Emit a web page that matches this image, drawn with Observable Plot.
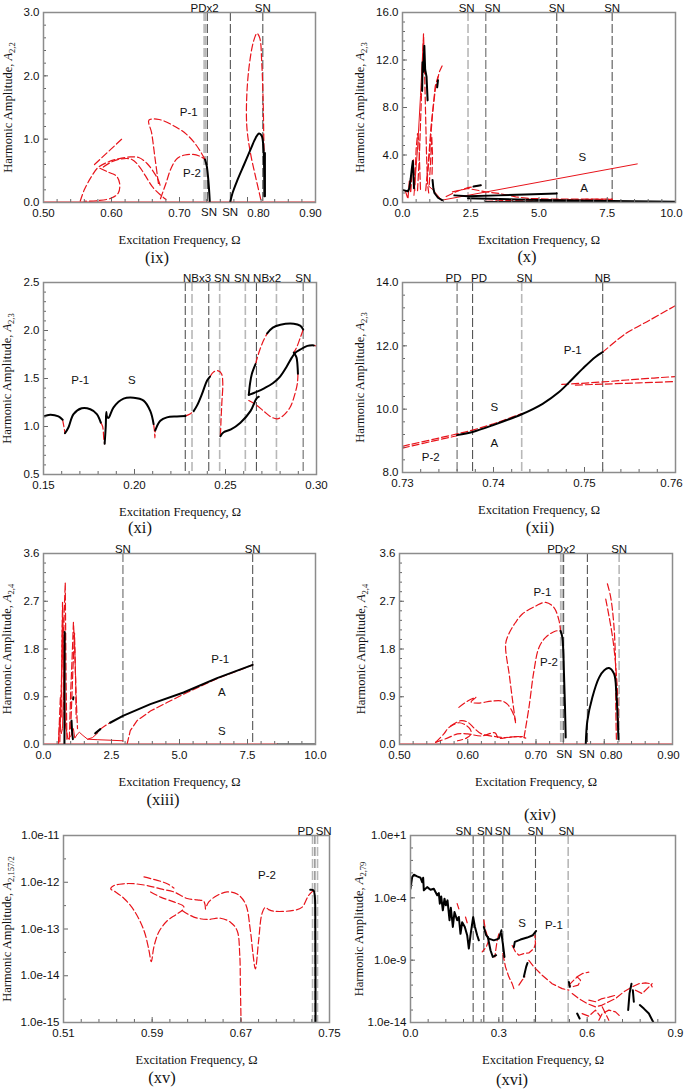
<!DOCTYPE html>
<html><head><meta charset="utf-8">
<script src="https://cdn.jsdelivr.net/npm/d3@7"></script>
<script src="https://cdn.jsdelivr.net/npm/@observablehq/plot@0.6"></script>
<style>
body{margin:0;background:#fff;}
#wrap{position:relative;width:685px;height:1091px;overflow:hidden;background:#fff;}
.panel{position:absolute;}
.cap{position:absolute;font-family:"Liberation Serif","Times New Roman",serif;font-size:16.5px;transform:translate(-50%,-50%);white-space:nowrap;color:#111;}
</style></head><body><div id="wrap"></div>
<script>
// ---------------- (ix) ----------------
const ixXTicks = [0.5, 0.6, 0.7, 0.8, 0.9];
const ixYTicks = [0, 1, 2, 3];
const ixDarkV = [0.741, 0.7748, 0.8225];
const ixLightV = [0.7362, 0.7385];
const ixTop = [{x: 0.737, t: "PDx2"}, {x: 0.8225, t: "SN"}];
const ixBottom = [{x: 0.7435, t: "SN"}, {x: 0.7745, t: "SN"}];
const ixLabels = [{x: 0.7135, y: 1.43, t: "P-1"}, {x: 0.7184, y: 0.457, t: "P-2"}];
const ixRedSolid = [[[0.50, 0.0], [0.90, 0.0]]];
const ixRedDash = [
  [[0.669,0.30],[0.664,0.7],[0.659,1.1],[0.655,1.30],[0.67,1.31],[0.69,1.22],[0.71,1.08],[0.725,0.9],[0.7375,0.68]],
  [[0.672,0.06],[0.68,0.3],[0.688,0.55],[0.697,0.7],[0.708,0.75],[0.72,0.76],[0.73,0.73],[0.7375,0.68]],
  [[0.554,0.02],[0.56,0.2],[0.57,0.4],[0.58,0.55],[0.595,0.64],[0.61,0.69],[0.628,0.72],[0.64,0.71],[0.652,0.62],[0.662,0.48],[0.669,0.35],[0.672,0.25]],
  [[0.583,0.54],[0.595,0.48],[0.607,0.42],[0.612,0.3],[0.61,0.15],[0.6,0.07],[0.58,0.03],[0.56,0.02]],
  [[0.588,0.56],[0.60,0.64],[0.615,0.69],[0.63,0.68],[0.64,0.58],[0.65,0.42],[0.66,0.25],[0.672,0.12],[0.68,0.05]],
  [[0.575,0.60],[0.616,1.01]],
  [[0.8195,0.05],[0.812,0.4],[0.804,0.8],[0.799,1.2],[0.799,1.7],[0.803,2.2],[0.809,2.55],[0.814,2.67],[0.818,2.6],[0.821,2.2],[0.823,1.6],[0.824,1.0],[0.8245,0.7]]
];
const ixBlack = [
  [[0.7375,0.68],[0.740,0.58],[0.742,0.40],[0.7435,0.20],[0.7445,0.02]],
  [[0.7745,0.0],[0.778,0.15],[0.785,0.35],[0.795,0.6],[0.805,0.85],[0.812,1.02],[0.817,1.09],[0.821,1.05],[0.8235,0.85],[0.8245,0.5],[0.8248,0.1]],
  [[0.8256,0.1],[0.8256,0.78]]
];

// ---------------- (x) ----------------
const xXTicks = [0, 2.5, 5, 7.5, 10];
const xYTicks = [0, 4, 8, 12, 16];
const xDarkV = [5.65, 7.68];
const xMidV = [3.05];
const xLightV = [2.4];
const xTop = [{x: 2.35, t: "SN"}, {x: 3.3, t: "SN"}, {x: 5.65, t: "SN"}, {x: 7.68, t: "SN"}];
const xULabels = [{x: 6.59, y: 3.84, t: "S"}, {x: 6.65, y: 1.18, t: "A"}];
const xRedThin = [
  [[1.45,0.2],[8.6,3.25]],
  [[1.45,0.15],[1.25,0.7],[1.1,1.1],[0.95,1.4]],
  [[0.42,0.6],[0.55,4.5],[0.66,9.0],[0.76,13.6]]
];
const xRedDash = [
  [[0.55,1.0],[0.62,4],[0.68,8],[0.73,11.5],[0.77,14.2],[0.8,12],[0.84,8],[0.88,4],[0.92,1.5],[0.96,0.8]],
  [[0.45,1.5],[0.5,4.5],[0.55,5.8],[0.6,5.2],[0.63,3],[0.66,1]],
  [[0.85,1.0],[0.95,3.5],[1.05,6.5],[1.2,9.5],[1.35,11.0],[1.45,11.5]],
  [[0.9,1.8],[1.0,4.5],[1.1,7.5],[1.2,9.8],[1.3,10.6]],
  [[0.98,1.5],[1.03,3.5],[1.07,5.6],[1.1,4.0],[1.08,2.2]],
  [[0.1,1.0],[0.2,0.3],[0.25,1.8],[0.3,0.8],[0.35,2.5],[0.4,3.6],[0.45,1.0]],
  [[1.6,0.5],[2.0,0.95],[2.4,1.25],[2.87,1.45]],
  [[1.83,0.9],[2.4,1.18],[3.05,0.9],[3.54,0.76],[4.15,0.48],[4.63,0.34],[5.6,0.28],[7.68,0.28]],
  [[3.05,0.1],[4.0,0.18],[5.65,0.24],[7.68,0.27]]
];
const xBlack = [
  [[0,1.05],[0.1,1.0],[0.2,0.95],[0.25,1.2],[0.3,2.0],[0.35,3.0],[0.38,3.5],[0.4,2.5],[0.42,1.2]],
  [[0.72,9.4],[0.735,11.8],[0.76,11.0],[0.8,13.2],[0.83,11.2],[0.88,10.6],[0.92,8.6]],
  [[1.27,9.7],[1.3,10.3]],
  [[1.1,1.9],[1.13,1.2],[1.17,0.8],[1.3,0.4],[1.45,0.2]],
  [[1.9,0.6],[2.4,0.52],[3.5,0.6],[4.5,0.68],[5.65,0.75]],
  [[2.4,0.35],[5.0,0.22],[7.68,0.13],[10,0.06]],
  [[3.05,0.05],[10,0.02]],
  [[2.6,1.35],[2.87,1.46]]
];

// ---------------- (xi) ----------------
const xiXTicks = [0.15, 0.20, 0.25, 0.30];
const xiYTicks = [0.5, 1.0, 1.5, 2.0, 2.5];
const xiDarkV = [0.2279, 0.2408, 0.267];
const xiLightV = [0.2316, 0.2468, 0.2609, 0.278];
const xiMidV = [0.2927];
const xiTop = [{x: 0.2344, t: "NBx3"}, {x: 0.2481, t: "SN"}, {x: 0.2591, t: "SN"}, {x: 0.2729, t: "NBx2"}, {x: 0.2927, t: "SN"}];
const xiLabels = [{x: 0.1702, y: 1.477, t: "P-1"}];
const xiULabels = [{x: 0.1986, y: 1.477, t: "S"}];
const xiBlack = [
  [[0.15,1.105],[0.1537,1.123],[0.1582,1.105],[0.1605,1.07]],
  [[0.1618,0.93],[0.1637,0.99],[0.1665,1.13],[0.171,1.19],[0.1757,1.18],[0.1793,1.13],[0.1815,1.04]],
  [[0.1836,0.82],[0.1842,1.0],[0.1845,1.15],[0.1849,1.10],[0.1857,1.09],[0.1885,1.20],[0.194,1.29],[0.1995,1.30],[0.205,1.27],[0.2087,1.16],[0.2105,1.025]],
  [[0.2114,0.96],[0.2142,1.06],[0.2178,1.095],[0.2233,1.105],[0.228,1.11]],
  [[0.2325,1.16],[0.2344,1.22],[0.2371,1.34],[0.2399,1.48],[0.2415,1.52]],
  [[0.2472,0.90],[0.2490,0.94],[0.2530,0.97],[0.2582,1.04],[0.2637,1.16],[0.267,1.29],[0.2683,1.31]],
  [[0.2628,1.33],[0.2635,1.45],[0.2645,1.55],[0.2665,1.65]],
  [[0.2729,1.97],[0.276,2.03],[0.2802,2.06],[0.2875,2.07],[0.291,2.05],[0.2927,2.01]],
  [[0.2628,1.33],[0.267,1.36],[0.2715,1.40],[0.276,1.45],[0.28,1.52],[0.2835,1.62],[0.2865,1.72],[0.2885,1.77],[0.291,1.80],[0.295,1.84],[0.2985,1.845]],
  [[0.2875,1.77],[0.289,1.72],[0.2895,1.65],[0.2898,1.55]]
];
const xiRedDash = [
  [[0.1605,1.07],[0.1612,1.0],[0.1618,0.93]],
  [[0.1815,1.04],[0.1825,1.0],[0.1832,0.86],[0.1836,0.82]],
  [[0.2105,1.025],[0.211,0.95],[0.2112,0.88],[0.2114,0.96]],
  [[0.228,1.11],[0.2305,1.13],[0.2325,1.16]],
  [[0.2415,1.52],[0.2436,1.57],[0.246,1.58],[0.2478,1.55],[0.2485,1.45],[0.248,1.25],[0.2475,1.05],[0.2472,0.90]],
  [[0.2665,1.65],[0.268,1.75],[0.2705,1.88],[0.2729,1.97]],
  [[0.2927,2.01],[0.291,1.92],[0.289,1.82],[0.2875,1.77]],
  [[0.2898,1.55],[0.2895,1.45],[0.288,1.33],[0.2855,1.2],[0.2815,1.11],[0.2784,1.08],[0.275,1.10],[0.271,1.16],[0.2665,1.23],[0.2628,1.27]],
  [[0.2985,1.845],[0.30,1.84]]
];

// ---------------- (xii) ----------------
const xiiXTicks = [0.73, 0.74, 0.75, 0.76];
const xiiYTicks = [8, 10, 12, 14];
const xiiDarkV = [0.7377, 0.752];
const xiiMidV = [0.736];
const xiiLightV = [0.7431];
const xiiTop = [{x: 0.7356, t: "PD"}, {x: 0.7384, t: "PD"}, {x: 0.7434, t: "SN"}, {x: 0.752, t: "NB"}];
const xiiLabels = [{x: 0.7487, y: 11.86, t: "P-1"}, {x: 0.7331, y: 8.49, t: "P-2"}];
const xiiULabels = [{x: 0.7401, y: 10.07, t: "S"}, {x: 0.7401, y: 8.91, t: "A"}];
const xiiBlack = [
  [[0.736,9.18],[0.7377,9.28],[0.7399,9.49],[0.7431,9.84],[0.7454,10.17],[0.7472,10.54],[0.7487,10.96],[0.7498,11.28],[0.7512,11.65],[0.752,11.80]]
];
const xiiRedDash = [
  [[0.752,11.80],[0.7545,12.38],[0.7571,12.80],[0.76,13.27]],
  [[0.73,8.83],[0.736,9.22],[0.7377,9.34],[0.74,9.54],[0.7431,9.86]],
  [[0.73,8.77],[0.733,8.97],[0.736,9.16]],
  [[0.7475,10.78],[0.752,10.86],[0.756,10.95],[0.76,11.03]],
  [[0.749,10.76],[0.752,10.79],[0.756,10.83],[0.76,10.87]]
];

// ---------------- (xiii) ----------------
const xiiiXTicks = [0, 2.5, 5, 7.5, 10];
const xiiiYTicks = [0, 0.9, 1.8, 2.7, 3.6];
const xiiiDarkV = [7.69];
const xiiiMidV = [2.92];
const xiiiTop = [{x: 2.92, t: "SN"}, {x: 7.69, t: "SN"}];
const xiiiLabels = [{x: 6.5, y: 1.61, t: "P-1"}];
const xiiiULabels = [{x: 6.56, y: 0.98, t: "A"}, {x: 6.56, y: 0.245, t: "S"}];
const xiiiRedSolid = [[[0, 0], [8.6, 0]]];
const xiiiRedThin = [
  [[0.55,0.05],[0.6,0.5],[0.65,0.2],[0.7,0.3],[0.75,1.5],[0.8,0.4],[0.9,0.1],[1.0,0.15],[1.1,0.3],[1.15,0.12],[1.25,0.2],[1.32,0.23],[1.45,0.17],[1.62,0.1],[1.8,0.13],[2.0,0.22]],
  [[1.62,0.1],[2.0,0.09],[2.5,0.08],[2.92,0.07]]
];
const xiiiRedDash = [
  [[0.55,0.0],[0.62,0.9],[0.65,0.5],[0.68,2.0],[0.7,2.68],[0.73,1.5],[0.76,2.5],[0.8,3.05],[0.83,1.2],[0.86,0.1]],
  [[0.6,0.05],[0.66,1.2],[0.7,2.4],[0.74,0.8],[0.78,0.3]],
  [[0.95,0.1],[1.0,1.0],[1.05,1.6],[1.1,2.3],[1.15,1.8],[1.2,0.9],[1.25,0.3]],
  [[1.0,0.3],[1.08,1.4],[1.14,2.1],[1.18,1.2],[1.2,0.5]],
  [[2.09,0.29],[2.25,0.35],[2.45,0.41]],
  [[3.07,0.0],[3.19,0.26],[3.44,0.45],[3.93,0.63],[4.54,0.79],[5.28,0.98],[6.38,1.24],[7.69,1.50]]
];
const xiiiBlack = [
  [[8.6, 0], [10, 0]],
  [[0.77,0.0],[0.78,2.12]],
  [[1.03,0.45],[1.05,0.25],[1.08,0.1]],
  [[1.09,0.85],[1.1,0.89]],
  [[1.9,0.21],[2.09,0.29]],
  [[2.45,0.41],[2.92,0.54],[3.93,0.76],[5.15,0.98],[6.38,1.25],[7.69,1.50]]
];

// ---------------- (xiv) ----------------
const xivXTicks = [0.5, 0.6, 0.7, 0.8, 0.9];
const xivYTicks = [0, 0.9, 1.8, 2.7, 3.6];
const xivDarkV = [0.7405, 0.7753];
const xivLightV = [0.7362, 0.7386, 0.8218];
const xivTop = [{x: 0.737, t: "PDx2"}, {x: 0.8218, t: "SN"}];
const xivBottom = [{x: 0.7415, t: "SN"}, {x: 0.7745, t: "SN"}];
const xivLabels = [{x: 0.7093, y: 2.86, t: "P-1"}, {x: 0.719, y: 1.55, t: "P-2"}];
const xivRedSolid = [[[0.50, 0.0], [0.90, 0.0]]];
const xivRedDash = [
  [[0.670,0.41],[0.666,0.8],[0.661,1.3],[0.6555,1.89],[0.66,2.08],[0.67,2.3],[0.68,2.46],[0.6995,2.61],[0.7142,2.68],[0.7264,2.58],[0.7338,2.33],[0.736,2.14]],
  [[0.6824,0.13],[0.6897,0.70],[0.697,1.39],[0.7044,1.83],[0.7142,2.02],[0.7289,2.14],[0.736,2.14]],
  [[0.5528,0.04],[0.565,0.2],[0.5724,0.32],[0.587,0.41],[0.595,0.38],[0.603,0.3],[0.605,0.2],[0.598,0.12],[0.585,0.07]],
  [[0.5528,0.04],[0.57,0.12],[0.585,0.2],[0.6,0.2],[0.62,0.16],[0.64,0.22],[0.645,0.12],[0.66,0.14],[0.68,0.15]],
  [[0.587,0.70],[0.600,0.82],[0.612,0.89],[0.605,0.8],[0.615,0.78],[0.636,0.82],[0.65,0.82],[0.658,0.76],[0.666,0.6],[0.670,0.45]],
  [[0.575,0.35],[0.59,0.45],[0.6,0.42],[0.61,0.3],[0.62,0.2],[0.64,0.15],[0.655,0.13],[0.675,0.15],[0.685,0.12]],
  [[0.8046,3.03],[0.8095,2.77],[0.8144,2.2],[0.8169,1.33],[0.8169,0.7],[0.8178,0.1]],
  [[0.8022,2.74],[0.813,1.95],[0.8193,1.01],[0.8208,0.2]]
];
const xivBlack = [
  [[0.736,2.14],[0.7386,2.02],[0.741,1.33],[0.7425,0.70],[0.7435,0.13]],
  [[0.7729,0.0],[0.7753,0.45],[0.7826,0.89],[0.7924,1.26],[0.800,1.40],[0.807,1.44],[0.8144,1.33],[0.8178,0.95],[0.8198,0.45],[0.8208,0.1]]
];

// ---------------- (xv) ----------------
const xvXTicks = [0.51, 0.59, 0.67, 0.75];
const xvYTicks = [1e-15, 1e-14, 1e-13, 1e-12, 1e-11];
const xvLightV = [0.7347, 0.7392];
const xvMidV = [0.7368];
const xvTop = [{x: 0.7283, t: "PD"}, {x: 0.7447, t: "SN"}];
const xvLabels = [{x: 0.6936, y: 1.4e-12, t: "P-2"}];
const xvRedDash = [
  [[0.7356,6.7e-13],[0.7311,5.2e-13],[0.7251,2.9e-13],[0.7176,2.5e-13],[0.6996,2.4e-13],[0.6951,2.6e-13],[0.6921,2.9e-13],[0.689,2.1e-13],[0.6861,5.8e-14],[0.6831,1.4e-14],[0.681,2.9e-14],[0.6786,9.3e-14],[0.6741,3.5e-13],[0.6666,5.6e-13],[0.6576,6.2e-13],[0.6486,5.2e-13],[0.6411,3.8e-13],[0.6381,2.7e-13]],
  [[0.6381,2.7e-13],[0.6366,3.9e-13],[0.6306,4.2e-13],[0.6216,4.5e-13],[0.6096,6.2e-13],[0.5976,7.2e-13],[0.5856,8.5e-13],[0.5736,9.3e-13],[0.5646,9.3e-13],[0.5556,8.5e-13],[0.5526,7.2e-13],[0.557,6.2e-13],[0.5646,4.5e-13],[0.5736,2.5e-13],[0.5826,9.3e-14],[0.5871,3.5e-14],[0.5892,2.0e-14],[0.5916,4.2e-14],[0.5961,8.7e-14],[0.6036,1.5e-13],[0.6111,2.0e-13],[0.6171,2.5e-13]],
  [[0.5826,1.3e-12],[0.5946,1.1e-12],[0.6036,9.3e-13],[0.6096,7.5e-13]],
  [[0.5886,6.2e-13],[0.5976,4.8e-13],[0.6096,3.8e-13],[0.6186,3.0e-13],[0.6171,2.5e-13]],
  [[0.6171,2.5e-13],[0.6276,1.8e-13],[0.6396,1.6e-13],[0.6516,1.7e-13],[0.6606,1.4e-13],[0.6666,9.3e-14],[0.669,2.9e-14],[0.6696,5.8e-15],[0.6702,1e-15]]
];
const xvBlack = [
  [[0.7326,6.9e-13],[0.7356,6.7e-13],[0.7368,4.8e-13],[0.7372,1e-13],[0.7374,1e-15]]
];

// ---------------- (xvi) ----------------
const xviXTicks = [0, 0.3, 0.6, 0.9];
const xviYTicks = [1e-14, 1e-9, 1e-4, 1e1];
const xviDarkV = [0.2128, 0.249, 0.3136, 0.4245];
const xviLightV = [0.5355];
const xviTop = [{x: 0.18, t: "SN"}, {x: 0.2526, t: "SN"}, {x: 0.3136, t: "SN"}, {x: 0.4245, t: "SN"}, {x: 0.5295, t: "SN"}];
const xviLabels = [{x: 0.487, y: 6.3e-7, t: "P-1"}];
const xviULabels = [{x: 0.379, y: 8.5e-7, t: "S"}];
const xviBlack = [
  [[0,5.4e-4],[0.0057,4.6e-3],[0.0113,7.1e-3],[0.0226,5.2e-3],[0.034,4.1e-3],[0.0396,1.8e-3],[0.043,4.1e-3],[0.0453,4.0e-4],[0.0566,7.2e-4],[0.068,4.4e-4],[0.0792,5.4e-4],[0.0849,2.9e-4],[0.0906,1.6e-4],[0.0962,2.4e-4],[0.0996,3.4e-5],[0.1042,1.3e-4],[0.1098,1.0e-5],[0.1155,8.5e-5],[0.12,2.5e-5],[0.1257,6.3e-5],[0.1325,1.6e-6],[0.137,1.6e-5],[0.1438,4.6e-7],[0.1494,7.2e-6],[0.1585,1.6e-6],[0.1642,2.9e-6],[0.1698,1.3e-7],[0.1755,1.1e-6],[0.1845,4.6e-7],[0.1925,1.0e-7],[0.1981,8.5e-9],[0.2038,1.0e-7],[0.2128,2.9e-6],[0.2185,5.1e-7],[0.2264,1.0e-7],[0.2321,3.9e-8]],
  [[0.249,4.6e-7],[0.257,1.0e-7],[0.266,5.4e-8],[0.283,3.9e-8],[0.3,5.4e-8],[0.309,2.5e-7]],
  [[0.2626,7.2e-8],[0.2717,6.3e-9],[0.2796,1.8e-9],[0.2909,2.5e-9]],
  [[0.309,1.3e-7],[0.3136,2.1e-8],[0.3192,1.8e-9]],
  [[0.351,1.1e-8],[0.3543,2.9e-8],[0.3736,4.5e-8],[0.3962,6.5e-8],[0.4155,1.0e-7],[0.4268,2.2e-7]],
  [[0.385,4.6e-11],[0.3928,2.9e-10],[0.3974,6.0e-10]],
  [[0.5378,1.8e-11],[0.5412,7.2e-12]],
  [[0.566,5.2e-14],[0.5744,2.1e-14]],
  [[0.7393,1.0e-13],[0.7438,2.1e-12],[0.7506,1.3e-11]],
  [[0.7551,3.9e-12],[0.7585,4.6e-13]],
  [[0.7789,2.5e-13],[0.7925,1.3e-13],[0.8095,5.2e-14],[0.8242,1.1e-14]]
];
const xviRedDash = [
  [[0.1585,3.4e-5],[0.1642,1.3e-5]],
  [[0.1868,2.9e-6],[0.1925,1.0e-6]],
  [[0.249,1.6e-6],[0.2547,2.5e-7],[0.266,3.9e-8],[0.257,1.1e-8],[0.2434,4.6e-9]],
  [[0.3,1.3e-7],[0.2943,3.9e-8],[0.2887,4.6e-9],[0.2864,1.8e-9]],
  [[0.3136,3.4e-9],[0.3226,2.9e-10],[0.334,4.6e-11],[0.3453,1.3e-11],[0.351,5.2e-12]],
  [[0.368,1.0e-11],[0.3793,2.5e-11],[0.3883,4.6e-11]],
  [[0.3453,1.5e-8],[0.3566,4.6e-9],[0.368,2.5e-9],[0.385,3.4e-9],[0.4019,3.8e-9],[0.4189,8.5e-9],[0.4245,2.1e-8],[0.4223,1.0e-7]],
  [[0.4019,9.8e-10],[0.4189,2.9e-10],[0.4472,6.2e-11],[0.4811,1.3e-11],[0.5151,5.2e-12],[0.5378,3.9e-12]],
  [[0.5378,1.0e-11],[0.5548,2.5e-11],[0.566,4.6e-11],[0.5774,2.5e-11],[0.5696,1.0e-11],[0.5491,7.2e-12],[0.5378,1.0e-11]],
  [[0.566,4.6e-11],[0.583,8.3e-11],[0.6057,1.1e-10]],
  [[0.5491,2.1e-12],[0.5717,8.3e-13],[0.6,3.3e-13],[0.6283,1.8e-13],[0.651,2.5e-13],[0.6736,4.6e-13],[0.6962,8.3e-13],[0.7245,2.9e-12],[0.7528,7.2e-12],[0.7755,1.3e-11],[0.7981,1.5e-11],[0.8151,1.3e-11],[0.8208,7.2e-12]],
  [[0.7642,3.9e-12],[0.7868,2.1e-12],[0.8038,5.2e-12],[0.8208,1.3e-11]],
  [[0.6396,1.5e-14],[0.651,5.2e-14],[0.6736,9.8e-14],[0.6962,7.2e-14],[0.7132,2.9e-14]],
  [[0.583,5.2e-14],[0.6057,3.2e-14],[0.6283,9.8e-14],[0.6453,2.9e-14]],
  [[0.651,1.8e-13],[0.6623,5.2e-14],[0.6736,1.5e-14]],
  [[0.6057,6.2e-13],[0.6283,4.6e-13],[0.651,8.3e-13],[0.6736,1.1e-12],[0.695,1.5e-12]]
];

// ---------------- styling and builder ----------------
const RED = "#e8141b", BLACK = "#000", DARK = "#555", MID = "#8a8a8a", LIGHT = "#b8b8b8", FRAME = "#8c8c8c";
const SANS = "'Liberation Sans', Arial, sans-serif";
const SERIF = "'Liberation Serif', 'Times New Roman', serif";

function build(p) {
  const fw = p.width - p.mL - p.mR, fh = p.height - p.mT - p.mB;
  const xy = (extra) => ({x: d => d[0], y: d => d[1], clip: true, curve: p.curve || "linear", ...extra});
  const shift = p.xShift || new Map();
  const marks = [];
  marks.push(Plot.ruleX(p.lightV || [], {x: d => d, stroke: LIGHT, strokeWidth: 1.6, strokeDasharray: "9,3"}));
  marks.push(Plot.ruleX(p.midV || [], {x: d => d, stroke: MID, strokeWidth: 1.4, strokeDasharray: "9,3"}));
  marks.push(Plot.ruleX(p.darkV || [], {x: d => d, stroke: DARK, strokeWidth: 1.1, strokeDasharray: "9,3"}));
  for (const a of p.redSolid || []) marks.push(Plot.line(a, xy({stroke: RED, strokeWidth: 1.8})));
  for (const a of p.redThin || []) marks.push(Plot.line(a, xy({stroke: RED, strokeWidth: 1})));
  for (const a of p.redDash || []) marks.push(Plot.line(a, xy({stroke: RED, strokeWidth: 1.2, strokeDasharray: "7,3"})));
  for (const a of p.black || []) marks.push(Plot.line(a, xy({stroke: BLACK, strokeWidth: 2})));
  marks.push(Plot.tickX(p.xMinor, {x: d => d, insetTop: fh - 3, stroke: "#666"}));
  marks.push(Plot.tickX(p.xTicks, {x: d => d, insetTop: fh - 5, stroke: "#666"}));
  marks.push(Plot.tickY(p.yMinor, {y: d => d, insetRight: fw - 3, stroke: "#666"}));
  marks.push(Plot.tickY(p.yTicks, {y: d => d, insetRight: fw - 5, stroke: "#666"}));
  marks.push(Plot.frame({stroke: FRAME, strokeWidth: 1.5}));
  marks.push(Plot.axisX({ticks: p.xTicks.filter(v => !shift.has(v)), tickFormat: p.xFmt, tickSize: 0, tickPadding: 6, label: "Excitation Frequency, Ω", labelAnchor: "center", labelOffset: 41}));
  for (const [v, dx] of shift) marks.push(Plot.axisX({ticks: [v], tickFormat: p.xFmt, tickSize: 0, tickPadding: 6, label: null, dx}));
  marks.push(Plot.axisY({ticks: p.yTicks, tickFormat: p.yFmt, tickSize: 0, tickPadding: 4, label: "Harmonic Amplitude", labelAnchor: "center", labelOffset: p.yLabOff}));
  marks.push(Plot.text(p.top || [], {x: "x", text: "t", frameAnchor: "top", lineAnchor: "bottom", dy: -1, fill: "#111"}));
  marks.push(Plot.text(p.bottom || [], {x: "x", text: "t", frameAnchor: "bottom", lineAnchor: "top", dy: 5, fill: "#111"}));
  marks.push(Plot.text(p.labels || [], {x: "x", y: "y", text: "t", fill: "#111"}));
  marks.push(Plot.text(p.ulabels || [], {x: "x", y: "y", text: "t", fill: "#111", ariaLabel: "ulabel"}));
  const svg = Plot.plot({
    width: p.width, height: p.height,
    marginLeft: p.mL, marginRight: p.mR, marginTop: p.mT, marginBottom: p.mB,
    x: {domain: p.xDomain},
    y: {domain: p.yDomain, type: p.yType || "linear"},
    style: {fontFamily: SANS, fontSize: "11.5px", background: "transparent", overflow: "visible", color: "#111"},
    marks
  });
  const s = d3.select(svg);
  const yl = s.select('g[aria-label="y-axis label"]');
  yl.style("font-family", SERIF).style("font-size", "12.5px");
  const t = yl.select("text");
  t.text(null);
  t.append("tspan").text("Harmonic Amplitude, ");
  t.append("tspan").attr("font-style", "italic").text("A");
  t.append("tspan").attr("font-size", "8.5px").attr("dy", "0.35em").text(p.sub);
  const xl = s.select('g[aria-label="x-axis label"]');
  xl.style("font-family", SERIF).style("font-size", "12.5px");
  xl.select("text").text("Excitation Frequency, Ω");
  s.selectAll('g[aria-label="ulabel"] text').attr("text-decoration", "underline");
  const div = document.createElement("div");
  div.className = "panel";
  div.style.left = p.left + "px";
  div.style.top = p.top0 + "px";
  div.appendChild(svg);
  const wrap = document.getElementById("wrap");
  wrap.appendChild(div);
  const cap = document.createElement("div");
  cap.className = "cap";
  cap.style.left = p.capX + "px";
  cap.style.top = p.capY + "px";
  cap.textContent = p.cap;
  wrap.appendChild(cap);
}

const f1 = d => d.toFixed(1), f2 = d => d.toFixed(2), fe = d => d.toExponential(1);
const decades = (a, b) => d3.range(a, b + 1).map(k => Math.pow(10, k));

build({cap: "(ix)", capX: 157, capY: 258, left: 0, top0: 0, width: 342, height: 245, mL: 43, mR: 27, mT: 12, mB: 43,
  xDomain: [0.5, 0.9], yDomain: [0, 3], xTicks: ixXTicks, yTicks: ixYTicks, xMinor: d3.range(0.5, 0.9001, 0.02), yMinor: d3.range(0, 3.001, 0.2),
  xFmt: f2, yFmt: f1, yLabOff: 40, sub: "2,2", curve: "catmull-rom", xShift: new Map([[0.8, 11], [0.9, -5]]),
  darkV: ixDarkV, lightV: ixLightV, top: ixTop, bottom: ixBottom, labels: ixLabels,
  redSolid: ixRedSolid, redDash: ixRedDash, black: ixBlack});

build({cap: "(x)", capX: 527, capY: 257, left: 342, top0: 0, width: 343, height: 245, mL: 60, mR: 10, mT: 12, mB: 43,
  xDomain: [0, 10], yDomain: [0, 16], xTicks: xXTicks, yTicks: xYTicks, xMinor: d3.range(0, 10.001, 0.5), yMinor: d3.range(0, 16.001, 0.8),
  xFmt: f1, yFmt: f1, yLabOff: 47, sub: "2,3", xShift: new Map([[10, -4]]),
  darkV: xDarkV, midV: xMidV, lightV: xLightV, top: xTop, ulabels: xULabels,
  redThin: xRedThin, redDash: xRedDash, black: xBlack});

build({cap: "(xi)", capX: 140, capY: 528, left: 0, top0: 270, width: 342, height: 245, mL: 43, mR: 26, mT: 12, mB: 41,
  xDomain: [0.15, 0.30], yDomain: [0.5, 2.5], xTicks: xiXTicks, yTicks: xiYTicks, xMinor: d3.range(0.15, 0.3001, 0.01), yMinor: d3.range(0.5, 2.5001, 0.1),
  xFmt: f2, yFmt: f1, yLabOff: 41, sub: "2,3", curve: "catmull-rom",
  darkV: xiDarkV, midV: xiMidV, lightV: xiLightV, top: xiTop, labels: xiLabels, ulabels: xiULabels,
  redDash: xiRedDash, black: xiBlack});

build({cap: "(xii)", capX: 540, capY: 528, left: 342, top0: 270, width: 343, height: 245, mL: 60, mR: 10, mT: 12, mB: 43,
  xDomain: [0.73, 0.76], yDomain: [8, 14], xTicks: xiiXTicks, yTicks: xiiYTicks, xMinor: d3.range(0.73, 0.7601, 0.002), yMinor: d3.range(8, 14.001, 0.4),
  xFmt: f2, yFmt: f1, yLabOff: 47, sub: "2,3", curve: "catmull-rom", xShift: new Map([[0.76, -4]]),
  darkV: xiiDarkV, midV: xiiMidV, lightV: xiiLightV, top: xiiTop, labels: xiiLabels, ulabels: xiiULabels,
  redDash: xiiRedDash, black: xiiBlack});

build({cap: "(xiii)", capX: 163, capY: 800, left: 0, top0: 540, width: 342, height: 245, mL: 43, mR: 27, mT: 13, mB: 41,
  xDomain: [0, 10], yDomain: [0, 3.6], xTicks: xiiiXTicks, yTicks: xiiiYTicks, xMinor: d3.range(0, 10.001, 0.5), yMinor: d3.range(0, 3.6001, 0.18),
  xFmt: f1, yFmt: f1, yLabOff: 41, sub: "2,4",
  darkV: xiiiDarkV, midV: xiiiMidV, top: xiiiTop, labels: xiiiLabels, ulabels: xiiiULabels,
  redSolid: xiiiRedSolid, redThin: xiiiRedThin, redDash: xiiiRedDash, black: xiiiBlack});

build({cap: "(xiv)", capX: 540, capY: 815, left: 342, top0: 540, width: 343, height: 245, mL: 57, mR: 13, mT: 13, mB: 41,
  xDomain: [0.5, 0.9], yDomain: [0, 3.6], xTicks: xivXTicks, yTicks: xivYTicks, xMinor: d3.range(0.5, 0.9001, 0.02), yMinor: d3.range(0, 3.6001, 0.18),
  xFmt: f2, yFmt: f1, yLabOff: 43, sub: "2,4", curve: "catmull-rom", xShift: new Map([[0.8, 7], [0.9, -4]]),
  darkV: xivDarkV, lightV: xivLightV, top: xivTop, bottom: xivBottom, labels: xivLabels,
  redSolid: xivRedSolid, redDash: xivRedDash, black: xivBlack});

build({cap: "(xv)", capX: 162, capY: 1078, left: 0, top0: 820, width: 342, height: 245, mL: 63, mR: 13, mT: 15, mB: 43,
  xDomain: [0.51, 0.75], yDomain: [1e-15, 1e-11], yType: "log", xTicks: xvXTicks, yTicks: xvYTicks, xMinor: d3.range(0.51, 0.7501, 0.016), yMinor: decades(-15, -11).map(v => v * Math.sqrt(10)).filter(v => v < 1e-11),
  xFmt: f2, yFmt: fe, yLabOff: 61, sub: "2,157/2", curve: "catmull-rom",
  midV: xvMidV, lightV: xvLightV, top: xvTop, labels: xvLabels,
  redDash: xvRedDash, black: xvBlack});

build({cap: "(xvi)", capX: 512, capY: 1080, left: 342, top0: 820, width: 343, height: 245, mL: 68, mR: 10, mT: 15, mB: 43,
  xDomain: [0, 0.9], yDomain: [1e-14, 1e1], yType: "log", xTicks: xviXTicks, yTicks: xviYTicks, xMinor: d3.range(0, 0.9001, 0.06), yMinor: decades(-14, 1),
  xFmt: f1, yFmt: fe, yLabOff: 56, sub: "2,79",
  darkV: xviDarkV, lightV: xviLightV, top: xviTop, labels: xviLabels, ulabels: xviULabels,
  redDash: xviRedDash, black: xviBlack});
</script></body></html>
